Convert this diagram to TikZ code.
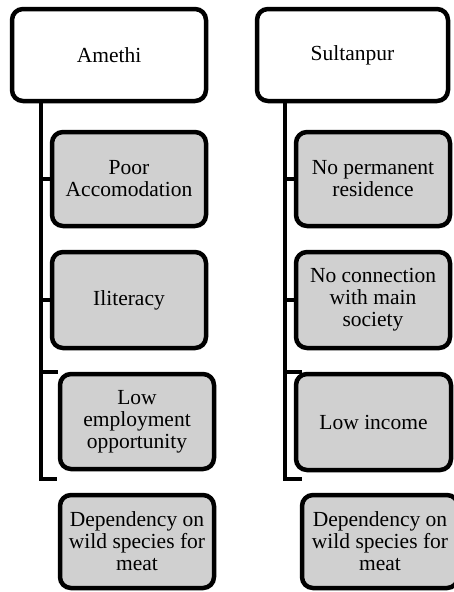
\documentclass[tikz,border=0pt]{standalone}
\usepackage{fontspec}
\setmainfont{Liberation Serif}
\tikzset{% styles for the boxes and the joining lines
  head/.style={draw, line width=4.5pt, rounded corners=11pt, fill=white,
    align=center, font=\fontsize{21.5}{22}\selectfont},
  cause/.style={head, fill=gray!37},
  link/.style={line width=4.5pt}
}

\begin{document}
\begin{tikzpicture}[x=1pt, y=-1pt]
\useasboundingbox (0,0) rectangle (454,592);
\clip (0,0) rectangle (454,592);
% ends of the two brackets
\coordinate (trunkA) at (41,479);
\coordinate (bendA) at (57,479);
\coordinate (trunkS) at (285,479);
\coordinate (bendS) at (302,479);

% left column
\node [head, minimum width=194pt, minimum height=92pt] (amethi) at (109,55) {Amethi};
\node [cause, minimum width=154pt, minimum height=94pt] (poor) at (129,179) {Poor\\Accomodation};
\node [cause, minimum width=154pt, minimum height=96pt] (illit) at (129,300) {Iliteracy};
\node [cause, minimum width=154pt, minimum height=95pt] (lowemp) at (137,421.5) {Low\\employment\\opportunity};
\node [cause, minimum width=154pt, minimum height=93pt] (depA) at (137,541.5) {Dependency on\\wild species for\\meat};

% right column
\node [head, minimum width=191pt, minimum height=92pt] (sultan) at (352.5,55) {Sultanpur};
\node [cause, minimum width=154pt, minimum height=94pt] (noperm) at (373,179) {No permanent\\residence};
\node [cause, minimum width=154pt, minimum height=96pt] (noconn) at (373,300) {No connection\\with main\\society};
\node [cause, minimum width=155pt, minimum height=96pt] (lowinc) at (373.5,422) {Low income};
\node [cause, minimum width=156pt, minimum height=93pt] (depS) at (380,541.5) {Dependency on\\wild species for\\meat};

% brackets
\draw [link] (amethi.south -| trunkA) -- (trunkA) -- (bendA);
\draw [link] (trunkA |- poor.west) -- (poor.west);
\draw [link] (trunkA |- illit.west) -- (illit.west);
\draw [link] (trunkA |- lowemp.north west) -- (lowemp.north west);
\draw [link] (sultan.south -| trunkS) -- (trunkS) -- (bendS);
\draw [link] (trunkS |- noperm.west) -- (noperm.west);
\draw [link] (trunkS |- noconn.west) -- (noconn.west);
\draw [link] (trunkS |- lowinc.north west) -- ([xshift=8pt]lowinc.north west);
\end{tikzpicture}
\end{document}
